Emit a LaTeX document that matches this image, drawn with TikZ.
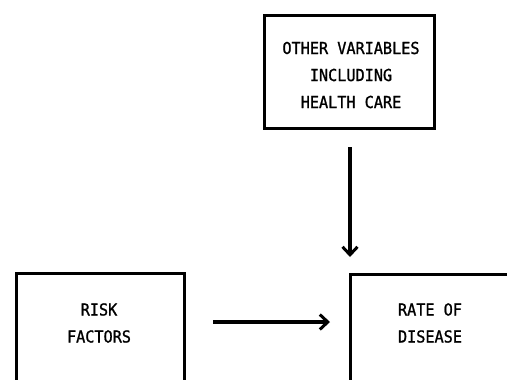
\documentclass[tikz,border=0pt]{standalone}
\usepackage{fontspec}
\newfontfamily\lblfont[FakeStretch=0.92,FakeBold=1.2]{DejaVu Sans Mono}
\usetikzlibrary{arrows.meta}
\begin{document}
\begin{tikzpicture}[x=1pt,y=-1pt,
  box/.style={draw=black,line width=3pt,rectangle,inner sep=0pt},
  lbl/.style={align=center,font=\lblfont\fontsize{16.5}{27}\selectfont,inner sep=0pt},
  arr/.style={line width=3.2pt,-{Straight Barb[length=8pt,width=15pt,line width=3pt]}}]
\useasboundingbox (0,0) rectangle (507,380);
\fill[white] (0,0) rectangle (507,380);
\clip (0,0) rectangle (507,380);
\node[box,minimum width=170pt,minimum height=113pt,anchor=north west] (other) at (263,14) {};
\node[lbl] (otherlbl) at (351,75) {OTHER VARIABLES\\INCLUDING\\HEALTH CARE};
\node[box,minimum width=168pt,minimum height=160pt,anchor=north west] (risk) at (15,272) {};
\node[lbl] (risklbl) at (99,323) {RISK\\FACTORS};
\node[box,minimum width=170pt,minimum height=160pt,anchor=north west] (rate) at (349,273) {};
\node[lbl] (ratelbl) at (430,323) {RATE OF\\DISEASE};
\coordinate (h) at (0,322);
\coordinate (v) at (350,0);
\draw[arr,shorten <=17pt,shorten >=16pt] (v |- other.south) -- (v |- rate.north);
\draw[arr,shorten <=27pt,shorten >=19pt] (risk.east |- h) -- (rate.west |- h);
\end{tikzpicture}
\end{document}
